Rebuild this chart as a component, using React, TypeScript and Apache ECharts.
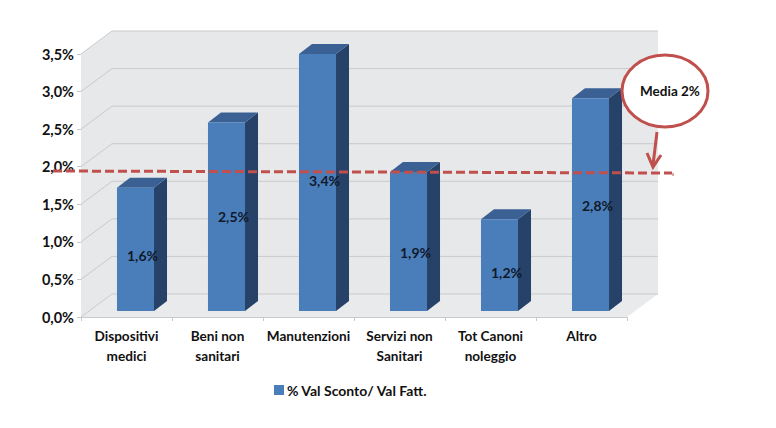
import React, { useEffect, useRef } from "react";
import * as echarts from "echarts";

const categories = ["Dispositivi\nmedici", "Beni non\nsanitari", "Manutenzioni", "Servizi non\nSanitari", "Tot Canoni\nnoleggio", "Altro"];
const barHeights = [1.64, 2.51, 3.42, 1.85, 1.22, 2.83];
const barLabels = ["1,6%", "2,5%", "3,4%", "1,9%", "1,2%", "2,8%"];
const labelDrop = [6, 0, -2, 11, 7, 1];
const yTicks = [0, 0.5, 1, 1.5, 2, 2.5, 3, 3.5];
const seriesName = "% Val Sconto/ Val Fatt.";
const noteText = "Media 2%";

const FONT = "Lato";
const RED = "#c0504d";
const WALL = "#e7e8e9";
const GRID = "#c9cacb";
const DEPTH_X = 31;
const DEPTH_Y = 23;

export default function App() {
  const ref = useRef<HTMLDivElement>(null);
  useEffect(() => {
    const chart = echarts.init(ref.current!, null, { renderer: "svg" });
    const frame = (api: any) => {
      const band = api.size([1, 0])[0];
      const x0 = api.coord([0, 0])[0] - band / 2;
      return { band, x0, x1: x0 + band * categories.length };
    };
    chart.setOption({
      animation: false,
      backgroundColor: "#ffffff",
      grid: { left: 81, top: 54, width: 546, height: 263 },
      legend: {
        left: 269,
        top: 378,
        itemWidth: 10,
        itemHeight: 10,
        itemGap: 0,
        icon: "rect",
        data: [{ name: seriesName, itemStyle: { color: "#4a7ebb" } }],
        textStyle: { fontFamily: FONT, fontWeight: "bold", fontSize: 14, color: "#111", padding: [1, 0, 0, -2] },
      },
      xAxis: {
        type: "category",
        data: categories,
        axisLine: { lineStyle: { color: GRID } },
        axisTick: { show: true, length: 4, lineStyle: { color: GRID } },
        axisLabel: {
          interval: 0,
          margin: 9,
          lineHeight: 20,
          fontFamily: FONT,
          fontWeight: "bold",
          fontSize: 13.6,
          color: "#111",
        },
      },
      yAxis: {
        type: "value",
        min: 0,
        max: 3.5,
        interval: 0.5,
        splitLine: { show: false },
        axisLine: { show: true, lineStyle: { color: GRID } },
        axisTick: { show: true, length: 4, lineStyle: { color: GRID } },
        axisLabel: {
          margin: 7,
          fontFamily: FONT,
          fontWeight: "bold",
          fontSize: 14.5,
          color: "#111",
          formatter: (v: number) => v.toFixed(1).replace(".", ",") + "%",
        },
      },
      series: [
        {
          type: "custom",
          name: "walls",
          silent: true,
          z: 1,
          data: [0],
          renderItem: (_p: any, api: any) => {
            const { x0, x1 } = frame(api);
            const yb = api.coord([0, 0])[1];
            const yt = api.coord([0, 3.5])[1];
            const poly = (points: number[][], fill: string) => ({
              type: "polygon",
              shape: { points },
              style: { fill, stroke: null },
            });
            return {
              type: "group",
              children: [
                poly([[x0, yb], [x0 + DEPTH_X, yb - DEPTH_Y], [x0 + DEPTH_X, yt - DEPTH_Y], [x0, yt]], WALL),
                poly([[x0 + DEPTH_X, yb - DEPTH_Y], [x1 + DEPTH_X, yb - DEPTH_Y], [x1 + DEPTH_X, yt - DEPTH_Y], [x0 + DEPTH_X, yt - DEPTH_Y]], WALL),
                poly([[x0, yb], [x1, yb], [x1 + DEPTH_X, yb - DEPTH_Y], [x0 + DEPTH_X, yb - DEPTH_Y]], "#e9eaeb"),
              ],
            };
          },
        },
        {
          type: "custom",
          name: "gridlines",
          silent: true,
          z: 2,
          data: yTicks.map((t) => [0, t]),
          renderItem: (_p: any, api: any) => {
            const { x0, x1 } = frame(api);
            const y = api.coord([0, api.value(1)])[1];
            return {
              type: "polyline",
              shape: { points: [[x0, y], [x0 + DEPTH_X, y - DEPTH_Y], [x1 + DEPTH_X, y - DEPTH_Y]] },
              style: { fill: null, stroke: GRID, lineWidth: 1 },
            };
          },
        },
        {
          type: "custom",
          name: seriesName,
          z: 3,
          itemStyle: { color: "#4a7ebb" },
          data: barHeights.map((v, i) => [i, v]),
          renderItem: (_p: any, api: any) => {
            const i = api.value(0);
            const v = api.value(1);
            const band = api.size([1, 0])[0];
            const w = band * 0.407;
            const dx = 9;
            const dy = -6;
            const sx = 13;
            const sy = -10;
            const cx = api.coord([i, 0])[0] + dx;
            const yb = api.coord([i, 0])[1] + dy;
            const yt = api.coord([i, v])[1] + dy;
            const l = cx - w / 2;
            const r = cx + w / 2;
            return {
              type: "group",
              children: [
                {
                  type: "polygon",
                  shape: { points: [[r, yb], [r + sx, yb + sy], [r + sx, yt + sy], [r, yt]] },
                  style: { fill: "#264268" },
                },
                {
                  type: "polygon",
                  shape: { points: [[l, yt], [r, yt], [r + sx, yt + sy], [l + sx, yt + sy]] },
                  style: { fill: "#3a6094" },
                },
                { type: "rect", shape: { x: l, y: yt, width: w, height: yb - yt }, style: { fill: "#4a7ebb" } },
                {
                  type: "text",
                  x: cx + 7,
                  y: (yt + yb) / 2 + labelDrop[i],
                  style: {
                    text: barLabels[i],
                    fontFamily: FONT,
                    fontWeight: "bold",
                    fontSize: 14,
                    fill: "#10192a",
                    align: "center",
                    verticalAlign: "middle",
                  },
                },
              ],
            };
          },
        },
      ],
      graphic: [
        {
          type: "line",
          z: 100,
          shape: { x1: 53, y1: 171, x2: 672, y2: 173 },
          style: { stroke: RED, lineWidth: 3, lineDash: [9, 4] },
        },
        {
          type: "line",
          z: 100,
          shape: { x1: 673, y1: 173, x2: 673, y2: 176 },
          style: { stroke: RED, lineWidth: 1 },
        },
        {
          type: "ellipse",
          z: 101,
          shape: { cx: 665, cy: 91, rx: 43, ry: 36 },
          style: { fill: "#ffffff", stroke: RED, lineWidth: 3 },
        },
        {
          type: "text",
          z: 102,
          x: 670,
          y: 91,
          style: {
            text: noteText,
            fontFamily: FONT,
            fontWeight: "bold",
            fontSize: 13.5,
            fill: "#111",
            align: "center",
            verticalAlign: "middle",
          },
        },
        {
          type: "line",
          z: 101,
          shape: { x1: 657, y1: 132, x2: 653, y2: 165 },
          style: { stroke: RED, lineWidth: 3 },
        },
        {
          type: "polyline",
          z: 101,
          shape: { points: [[647, 153], [653, 167], [661, 155]] },
          style: { stroke: RED, lineWidth: 3, fill: null },
        },
      ],
    });
    return () => chart.dispose();
  }, []);
  return <div ref={ref} style={{ position: "absolute", left: 0, top: 0, width: 776, height: 428 }} />;
}
